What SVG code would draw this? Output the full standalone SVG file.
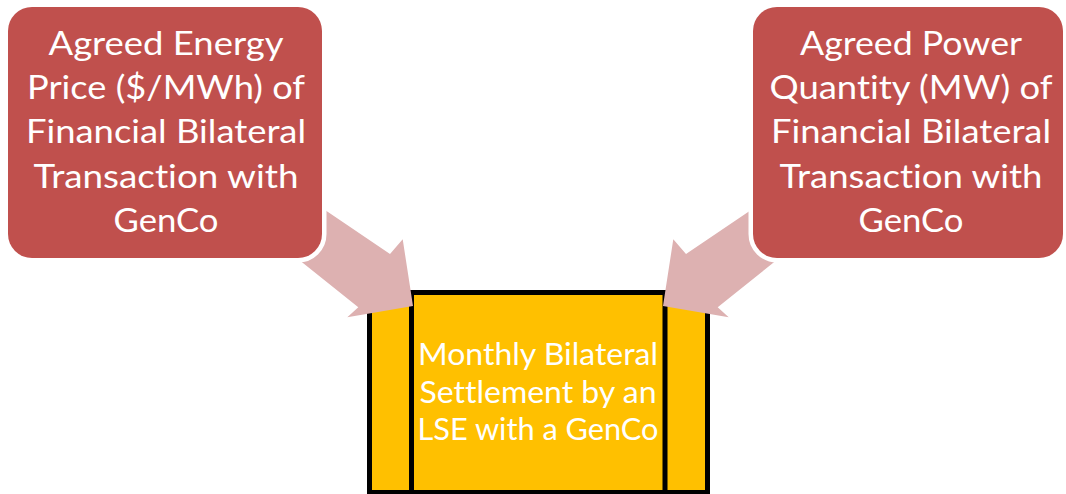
<svg xmlns="http://www.w3.org/2000/svg" width="1066" height="494" viewBox="0 0 1066 494">
  <style>
    .node-box { fill: #C0504D; stroke: #FFFFFF; stroke-width: 9; paint-order: stroke fill; }
    .node-text { font-family: Lato, "Liberation Sans", sans-serif; font-size: 33px; fill: #FFFFFF; text-anchor: middle; font-variant-ligatures: none; }
    .proc-text { font-family: Lato, "Liberation Sans", sans-serif; font-size: 30px; fill: #FFFFFF; text-anchor: middle; font-variant-ligatures: none; }
    .proc-frame { fill: #FFC000; stroke: #000000; stroke-width: 5; }
    .proc-bar { stroke: #000000; stroke-width: 5; fill: none; }
    .flow { fill: #DDB1B1; }
  </style>

  <!-- predefined-process shape: outer frame with two inner side bars -->
  <g id="settlement">
    <rect class="proc-frame" x="369.5" y="292.5" width="338" height="200"/>
    <line class="proc-bar" x1="411.5" y1="292.5" x2="411.5" y2="492.5"/>
    <line class="proc-bar" x1="665" y1="292.5" x2="665" y2="492.5"/>
  </g>

  <!-- block arrows feeding the settlement box -->
  <g id="connectors">
    <polygon class="flow" points="266,170 390,254 402.7,239.3 413,306 347.3,317.3 358.3,307.3 248,219"/>
    <polygon class="flow" points="810,170 686,254 673.3,239.3 663,306 728.7,317.3 717.7,307.3 828,219"/>
  </g>

  <g id="price">
    <rect class="node-box" x="8" y="7" width="314" height="251" rx="24" ry="24"/>
    <text class="node-text" x="166" y="55" textLength="235" lengthAdjust="spacingAndGlyphs">Agreed Energy</text>
    <text class="node-text" x="166" y="99" textLength="278" lengthAdjust="spacingAndGlyphs">Price ($/MWh) of</text>
    <text class="node-text" x="166" y="143" textLength="280" lengthAdjust="spacingAndGlyphs">Financial Bilateral</text>
    <text class="node-text" x="166" y="188" textLength="265" lengthAdjust="spacingAndGlyphs">Transaction with</text>
    <text class="node-text" x="166" y="232" textLength="105" lengthAdjust="spacingAndGlyphs">GenCo</text>
  </g>

  <g id="quantity">
    <rect class="node-box" x="753" y="7" width="310" height="251" rx="24" ry="24"/>
    <text class="node-text" x="911" y="55" textLength="222" lengthAdjust="spacingAndGlyphs">Agreed Power</text>
    <text class="node-text" x="911" y="99" textLength="283" lengthAdjust="spacingAndGlyphs">Quantity (MW) of</text>
    <text class="node-text" x="911" y="143" textLength="280" lengthAdjust="spacingAndGlyphs">Financial Bilateral</text>
    <text class="node-text" x="911" y="188" textLength="263" lengthAdjust="spacingAndGlyphs">Transaction with</text>
    <text class="node-text" x="911" y="232" textLength="105" lengthAdjust="spacingAndGlyphs">GenCo</text>
  </g>

  <g id="settlement-label">
    <text class="proc-text" x="538" y="365" textLength="240" lengthAdjust="spacingAndGlyphs">Monthly Bilateral</text>
    <text class="proc-text" x="538" y="403" textLength="237" lengthAdjust="spacingAndGlyphs">Settlement by an</text>
    <text class="proc-text" x="538" y="440" textLength="241" lengthAdjust="spacingAndGlyphs">LSE with a GenCo</text>
  </g>
</svg>
